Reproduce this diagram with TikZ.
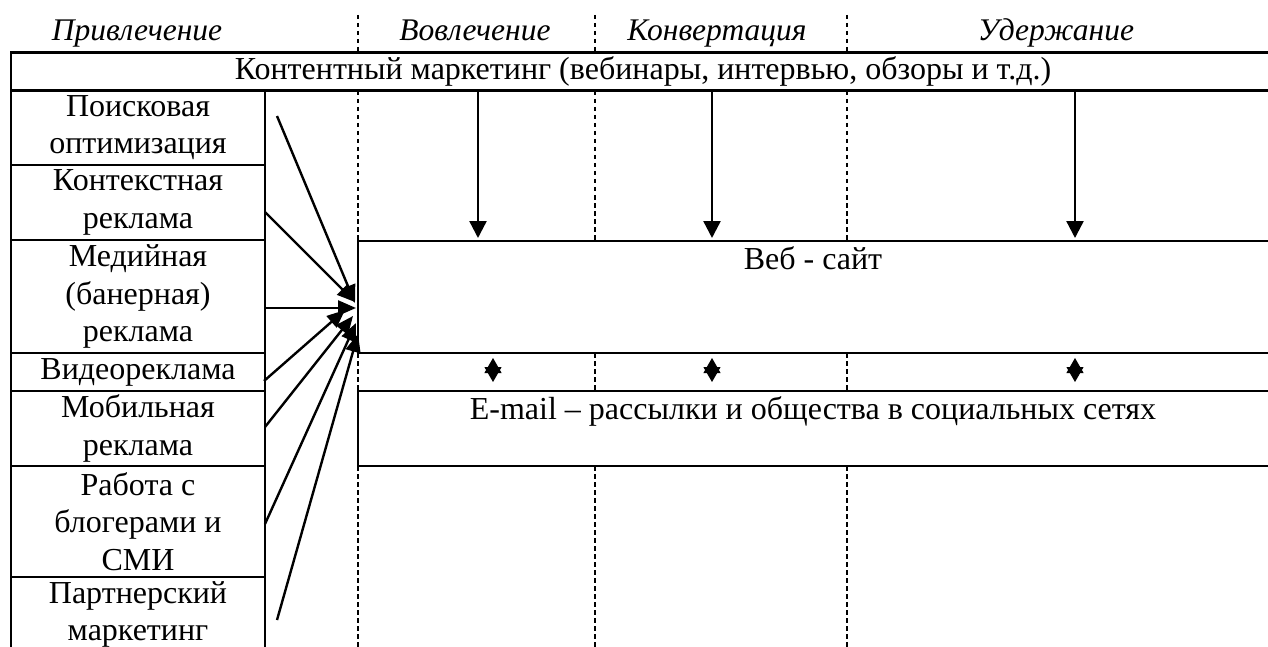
\documentclass[tikz,border=0pt]{standalone}
\usepackage{fontspec}
\setmainfont{Liberation Serif}
\usetikzlibrary{arrows.meta}
\begin{document}
\begin{tikzpicture}[x=1pt,y=-1pt,
  txt/.style={font=\fontsize{32}{37.5}\selectfont, align=center, inner sep=0pt},
  hdr/.style={font=\fontsize{31.5}{37.5}\selectfont\itshape, inner sep=0pt, anchor=base},
  boxline/.style={draw, line width=2.6pt},
  cell/.style={boxline, txt, minimum width=254pt},
  wide/.style={boxline, minimum width=917pt},
  arr/.style={line width=2.4pt, -{Triangle[length=18pt,width=15pt]}},
  darr/.style={line width=2.4pt, -{Triangle[length=17pt,width=17pt]}},
  dbl/.style={line width=1pt, {Triangle[length=15pt,width=17pt]}-{Triangle[length=15pt,width=17pt]}},
  sep/.style={line width=1.6pt, dash pattern=on 4.5pt off 3.5pt}
]
\useasboundingbox (0,0) rectangle (1268,647);
\clip (0,0) rectangle (1268,647);
\fill[white] (0,0) rectangle (1268,647);

% header labels
\node[hdr] (h1) at (137,41) {Привлечение};
\node[hdr] (h2) at (475,41) {Вовлечение};
\node[hdr] (h3) at (717,41) {Конвертация};
\node[hdr] (h4) at (1056,41) {Удержание};

% content marketing row
\node[boxline, txt, minimum width=1264pt, minimum height=38pt] (cm) at (643,71.5)
  {Контентный маркетинг (вебинары, интервью, обзоры и т.д.)};

% left column
\node[cell, minimum height=75pt]  (c1) at (138,127.5) {Поисковая\\оптимизация};
\node[cell, minimum height=75pt]  (c2) at (138,202.5) {Контекстная\\реклама};
\node[cell, minimum height=113pt] (c3) at (138,296.5) {Медийная\\(банерная)\\реклама};
\node[cell, minimum height=38pt]  (c4) at (138,372)   {Видеореклама};
\node[cell, minimum height=75pt]  (c5) at (138,428.5) {Мобильная\\реклама};
\node[cell, minimum height=111pt] (c6) at (138,521.5) {Работа с\\блогерами и\\СМИ};
\node[cell, minimum height=75pt]  (c7) at (138,614.5) {Партнерский\\маркетинг};

% web site and e-mail boxes
\node[wide, minimum height=112pt] (web) at (816.5,297) {};
\node[txt, anchor=base] (webt) at (813,269) {Веб - сайт};
\node[wide, minimum height=75pt] (mail) at (816.5,428.5) {};
\node[txt, anchor=base] (mailt) at (813,419) {E-mail – рассылки и общества в социальных сетях};

% dashed stage separators
\foreach \x/\n in {358/a,595/b,847/c}{
  \coordinate (\n0) at (\x,15);
  \coordinate (\n1) at (\x,52);
  \coordinate (\n2) at (\x,91);
  \coordinate (\n3) at (\x,241);
  \coordinate (\n4) at (\x,353);
  \coordinate (\n5) at (\x,391);
  \coordinate (\n6) at (\x,466);
  \coordinate (\n7) at (\x,647);
  \draw[sep] (\n0) -- (\n1);
  \draw[sep] (\n2) -- (\n3);
  \draw[sep] (\n4) -- (\n5);
  \draw[sep] (\n6) -- (\n7);
}

% down arrows from content marketing to web site
\foreach \x/\n in {478/1,712/2,1075/3}{
  \coordinate (d\n) at (\x,92);
  \coordinate (e\n) at (\x,238);
  \draw[darr] (d\n) -- (e\n);
}

% double arrows between web site and e-mail
\foreach \x/\n in {493/1,712/2,1075/3}{
  \coordinate (u\n) at (\x,358);
  \coordinate (v\n) at (\x,382);
  \draw[dbl] (u\n) -- (v\n);
}

% arrows from channels to web site
\coordinate (s1) at (277,116);  \coordinate (t1) at (355,303);
\coordinate (s2) at (265,212);  \coordinate (t2) at (355,302);
\coordinate (s3) at (264,308);  \coordinate (t3) at (356,308);
\coordinate (s4) at (264,381);  \coordinate (t4) at (345,310);
\coordinate (s5) at (265,427);  \coordinate (t5) at (353,316);
\coordinate (s6) at (265,524);  \coordinate (t6) at (356,323);
\coordinate (s7) at (277,620);  \coordinate (t7) at (358,334);
\foreach \i in {1,...,7}{
  \draw[arr] (s\i) -- (t\i);
}
\end{tikzpicture}
\end{document}
